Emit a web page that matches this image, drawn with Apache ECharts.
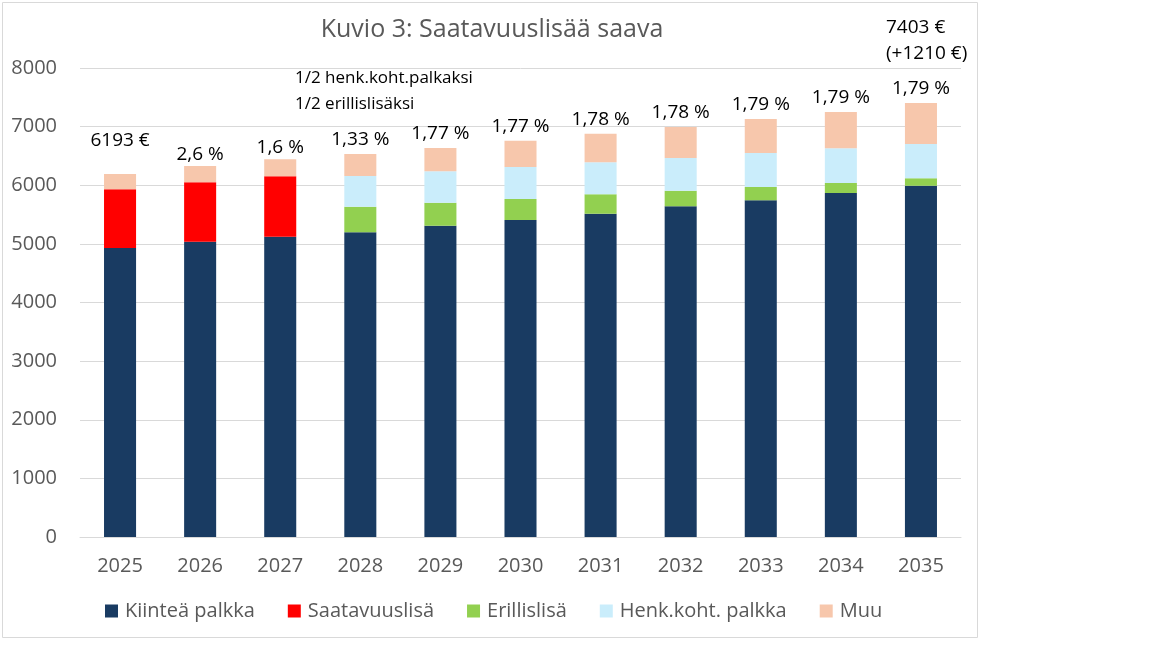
<!DOCTYPE html>
<html><head><meta charset="utf-8">
<script src="https://cdn.jsdelivr.net/npm/echarts@6/dist/echarts.min.js"></script>
<style>html,body{margin:0;padding:0;background:#fff}#c{width:1152px;height:648px}</style>
</head><body><div id="c"></div>
<script>
const categories = ['2025','2026','2027','2028','2029','2030','2031','2032','2033','2034','2035'];
const kiintea = [4930, 5037, 5122, 5197, 5311, 5407, 5515, 5641, 5743, 5868, 5990];
const saatavuus = [1000, 1013, 1031, 0, 0, 0, 0, 0, 0, 0, 0];
const erillis = [0, 0, 0, 438, 392, 358, 330, 266, 227, 170, 130];
const henk = [0, 0, 0, 523, 535, 546, 546, 558, 580, 592, 585];
const muu = [263, 278, 290, 375, 397, 450, 489, 529, 580, 619, 698];
const annotations = ['6193 €','2,6 %','1,6 %','1,33 %','1,77 %','1,77 %','1,78 %','1,78 %','1,79 %','1,79 %','1,79 %'];
const yTicks = [0,1000,2000,3000,4000,5000,6000,7000,8000];
const seriesNames = ['Kiinteä palkka','Saatavuuslisä','Erillislisä','Henk.koht. palkka','Muu'];
const colors = ['#193b62','#ff0000','#92d050','#caedfb','#f7c7ac'];

const FONT = 'Open Sans';
const chart = echarts.init(document.getElementById('c'), null, {renderer:'canvas'});
const labelDist = annotations.map((a,i)=> i===0 ? 24 : (i<3 ? 2 : 5));
const mk = (name, data, color, withLabel) => ({
  name, type:'bar', stack:'a', barWidth:'40%',
  itemStyle:{color}, emphasis:{disabled:true},
  data: data.map((v,i)=>{
    const o = {value: v};
    if (withLabel) o.label = {show:true, position:'top', distance: labelDist[i], formatter: annotations[i]};
    return o;
  }),
  label:{show:false, color:'#000', fontSize:19, fontFamily:FONT}
});
chart.setOption({
  animation:false,
  textStyle:{fontFamily:FONT},
  title:{text:'Kuvio 3: Saatavuuslisää saava', left:487, top:12, textAlign:'center',
    textStyle:{fontSize:25, fontWeight:'normal', color:'#595959', fontFamily:FONT}},
  grid:{left:80, right:191, top:68, bottom:111},
  xAxis:{type:'category', data:categories,
    axisLine:{lineStyle:{color:'#d9d9d9'}}, axisTick:{show:false},
    axisLabel:{color:'#595959', fontSize:20, margin:19, fontFamily:FONT}},
  yAxis:{type:'value', min:yTicks[0], max:yTicks[yTicks.length-1], interval:1000,
    axisLine:{show:false}, axisTick:{show:false},
    splitLine:{lineStyle:{color:'#d9d9d9', width:1}},
    axisLabel:{color:'#595959', fontSize:20, margin:23, fontFamily:FONT, formatter:v=>String(v)}},
  legend:{data:seriesNames, left:100, top:596, itemWidth:13, itemHeight:13, itemGap:33,
    icon:'rect', textStyle:{color:'#595959', fontSize:20, fontFamily:FONT, padding:[0,0,0,2]}},
  series:[
    mk(seriesNames[0], kiintea, colors[0]),
    mk(seriesNames[1], saatavuus, colors[1]),
    mk(seriesNames[2], erillis, colors[2]),
    mk(seriesNames[3], henk, colors[3]),
    mk(seriesNames[4], muu, colors[4], true)
  ],
  graphic:[
    {type:'rect', left:0, top:0, shape:{width:975, height:635}, style:{fill:'none', stroke:'#d9d9d9', lineWidth:1}, z:-1},
    {type:'text', left:295, top:70, style:{text:'1/2 henk.koht.palkaksi', fill:'#000', fontSize:17, fontFamily:FONT}},
    {type:'text', left:295, top:96, style:{text:'1/2 erillislisäksi', fill:'#000', fontSize:17, fontFamily:FONT}},
    {type:'text', left:886, top:18, style:{text:'7403 €', fill:'#000', fontSize:19, fontFamily:FONT}},
    {type:'text', left:886, top:44, style:{text:'(+1210 €)', fill:'#000', fontSize:19, fontFamily:FONT}}
  ]
});
</script></body></html>
